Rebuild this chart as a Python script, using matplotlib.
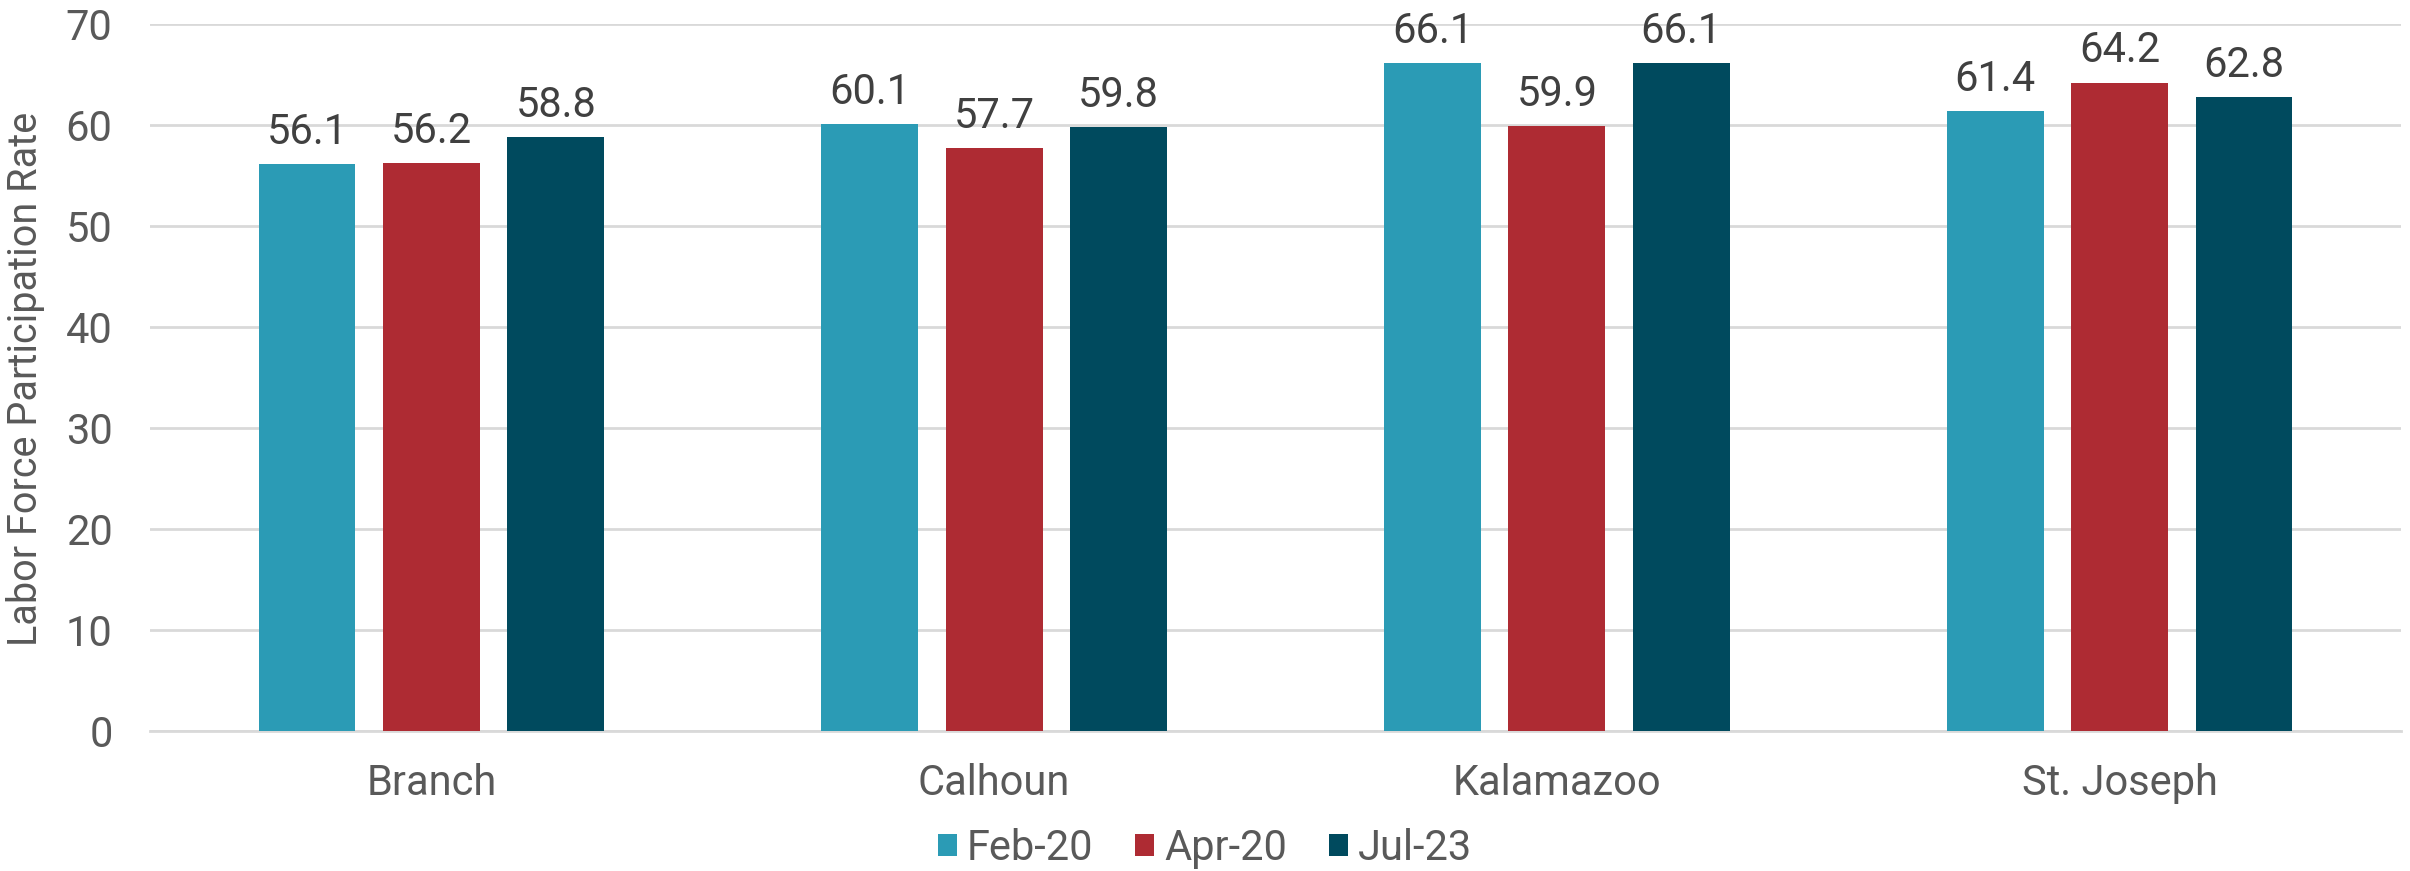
import matplotlib
matplotlib.use("Agg")
import matplotlib.pyplot as plt
import numpy as np
from matplotlib.patches import Patch

categories = ["Branch", "Calhoun", "Kalamazoo", "St. Joseph"]
series_names = ["Feb-20", "Apr-20", "Jul-23"]
feb20 = [56.1, 60.1, 66.1, 61.4]
apr20 = [56.2, 57.7, 59.9, 64.2]
jul23 = [58.8, 59.8, 66.1, 62.8]
colors = ["#2B9BB5", "#AE2B33", "#004A5E"]
yticks = [0, 10, 20, 30, 40, 50, 60, 70]

plt.rcParams['font.family'] = ['Roboto', 'DejaVu Sans']

fig = plt.figure(figsize=(24.10, 8.71), dpi=100)
ax = fig.add_axes([150 / 2410, 1 - 731 / 871, 2251 / 2410, 707 / 871])

x = np.arange(len(categories))
bw = 0.172
pitch = 0.221
for i, (vals, c) in enumerate(zip([feb20, apr20, jul23], colors)):
    pos = x + (i - 1) * pitch
    ax.bar(pos, vals, width=bw, color=c, zorder=3)
    for p, v in zip(pos, vals):
        ax.text(p, v + 2.0, f"{v:.1f}", ha="center", va="baseline",
                fontsize=30, color="#404040", zorder=4)

ax.set_xlim(-0.5, len(categories) - 0.5)
ax.set_ylim(0, 70)
ax.set_yticks(yticks)
ax.set_xticks(x)
ax.set_xticklabels(categories)
ax.tick_params(axis="both", length=0, labelsize=30, labelcolor="#595959")
ax.tick_params(axis="x", pad=23)
ax.tick_params(axis="y", pad=27)
ax.yaxis.grid(True, color="#D9D9D9", linewidth=2, zorder=0)
for s in ["top", "right", "left"]:
    ax.spines[s].set_visible(False)
ax.spines["bottom"].set_color("#D9D9D9")
ax.spines["bottom"].set_linewidth(2)
ax.set_ylabel("Labor Force Participation Rate", fontsize=28.5, color="#595959")
ax.yaxis.set_label_coords(-0.0466, 0.498)

handles = [Patch(facecolor=c, label=n) for c, n in zip(colors, series_names)]
fig.legend(handles=handles, loc="center", bbox_to_anchor=(0.5, 0.026), ncol=3,
           frameon=False, fontsize=30, labelcolor="#595959",
           handlelength=0.45, handleheight=0.45, handletextpad=0.25, columnspacing=1.0)

fig.savefig("out.png", dpi=100)
